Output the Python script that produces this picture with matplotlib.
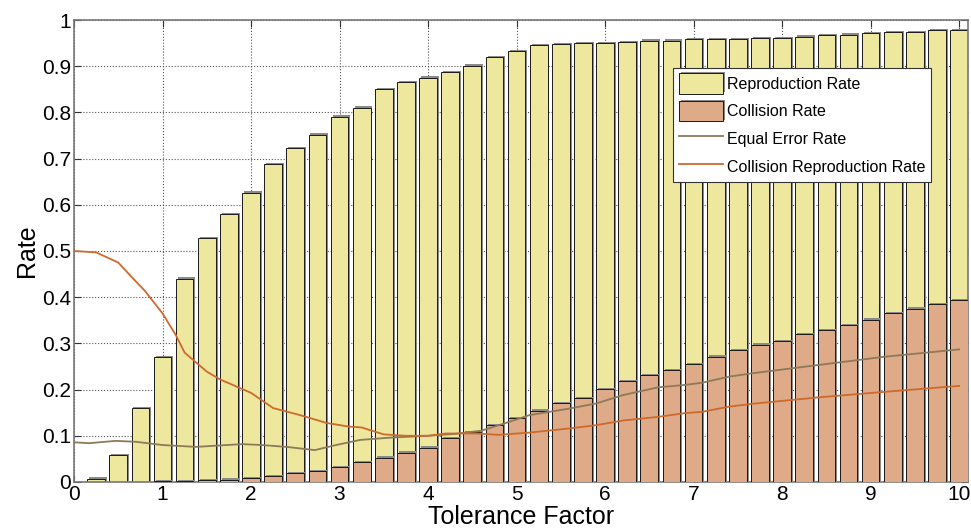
import numpy as np
import matplotlib.pyplot as plt
import matplotlib.patheffects as pe
from matplotlib.ticker import FuncFormatter

plt.rcParams['font.family'] = ['Liberation Sans', 'DejaVu Sans']

# Bar data (tolerance factor steps of 0.25)
tolerance = np.arange(1, 41) * 0.25
reproduction = [0.007, 0.058, 0.160, 0.270, 0.440, 0.528, 0.580, 0.626,
                0.688, 0.722, 0.752, 0.791, 0.810, 0.850, 0.865, 0.875,
                0.887, 0.901, 0.920, 0.932, 0.945, 0.948, 0.950, 0.950,
                0.952, 0.955, 0.955, 0.958, 0.958, 0.958, 0.960, 0.960,
                0.964, 0.967, 0.968, 0.971, 0.974, 0.974, 0.978, 0.978]
collision = [0.0, 0.0, 0.0, 0.002, 0.002, 0.004, 0.005, 0.008,
             0.012, 0.019, 0.024, 0.032, 0.043, 0.053, 0.063, 0.074,
             0.095, 0.108, 0.123, 0.138, 0.154, 0.170, 0.181, 0.201,
             0.218, 0.231, 0.242, 0.255, 0.271, 0.285, 0.297, 0.305,
             0.320, 0.328, 0.339, 0.351, 0.365, 0.375, 0.385, 0.394]

# Line data
eer_x = [0, 0.17, 0.47, 0.7, 1.0, 1.38, 1.9, 2.12, 2.4, 2.72, 2.96, 3.23,
         3.57, 4.0, 4.3, 4.6, 4.85, 5.15, 5.6, 5.9, 6.2, 6.6, 6.9, 7.1, 7.4,
         7.65, 8.4, 9.15, 10.0]
eer_y = [0.086, 0.084, 0.089, 0.087, 0.080, 0.076, 0.082, 0.080, 0.076,
         0.069, 0.080, 0.091, 0.096, 0.100, 0.104, 0.111, 0.126, 0.145,
         0.159, 0.170, 0.188, 0.205, 0.210, 0.215, 0.228, 0.235, 0.253,
         0.271, 0.287]
crr_x = [0, 0.25, 0.5, 0.65, 0.8, 1.0, 1.15, 1.25, 1.5, 1.65, 2.0, 2.25,
         2.55, 2.85, 3.1, 3.25, 3.5, 3.75, 4.0, 4.2, 4.55, 4.8, 5.15, 5.6,
         5.9, 6.2, 6.6, 6.9, 7.1, 7.4, 7.65, 8.4, 9.15, 10.0]
crr_y = [0.500, 0.497, 0.475, 0.444, 0.414, 0.365, 0.318, 0.280, 0.239,
         0.222, 0.193, 0.160, 0.145, 0.128, 0.120, 0.118, 0.103, 0.100,
         0.100, 0.105, 0.105, 0.102, 0.107, 0.116, 0.123, 0.133, 0.141,
         0.149, 0.152, 0.163, 0.169, 0.183, 0.195, 0.208]

fig = plt.figure(figsize=(9.71, 5.32), dpi=100)
ax = fig.add_axes([0.0762, 0.094, 0.9207, 0.8684])

shadow = [pe.SimplePatchShadow(offset=(1.4, 1.0), shadow_rgbFace='#8a8a8a', alpha=1.0), pe.Normal()]

b1 = ax.bar(tolerance, reproduction, width=0.2, color='#EEE89E', edgecolor='#1a1a1a',
            linewidth=0.7, label='Reproduction Rate', zorder=2)
b2 = ax.bar(tolerance, collision, width=0.2, color='#DEAA88', edgecolor='#1a1a1a',
            linewidth=0.7, label='Collision Rate', zorder=3)
for p in list(b1) + list(b2):
    p.set_path_effects(shadow)

l1, = ax.plot(eer_x, eer_y, color='#8C7A5A', lw=1.3, label='Equal Error Rate', zorder=4)
l2, = ax.plot(crr_x, crr_y, color='#CD6A2C', lw=1.3, label='Collision Reproduction Rate', zorder=4)

ax.set_xlim(0, 10.1)
ax.set_ylim(0, 1)
ax.set_xticks(range(0, 11))
ax.set_yticks(np.arange(0, 1.01, 0.1))
ax.yaxis.set_major_formatter(FuncFormatter(lambda v, p: '%g' % round(v, 1)))
ax.tick_params(direction='in', top=True, right=True, labelsize=15, length=5,
               color='#333333', pad=2)
ax.grid(True, linestyle=':', color='#555555', linewidth=0.8, zorder=0)
ax.set_axisbelow(True)
for s in ax.spines.values():
    s.set_color('#777777')
    s.set_linewidth(1.2)

ax.set_xlabel('Tolerance Factor', fontsize=18, labelpad=1)
ax.set_ylabel('Rate', fontsize=18, labelpad=2)

leg = ax.legend(handles=[b1, b2, l1, l2], loc='upper left', bbox_to_anchor=(0.670, 0.897),
                fontsize=11.5, frameon=True, fancybox=False, framealpha=1,
                edgecolor='#333333', handlelength=2.8, handleheight=1.6,
                borderpad=0.35, labelspacing=0.45, handletextpad=0.25, borderaxespad=0)
leg.get_frame().set_linewidth(0.8)

fig.savefig('out.png', dpi=100)
